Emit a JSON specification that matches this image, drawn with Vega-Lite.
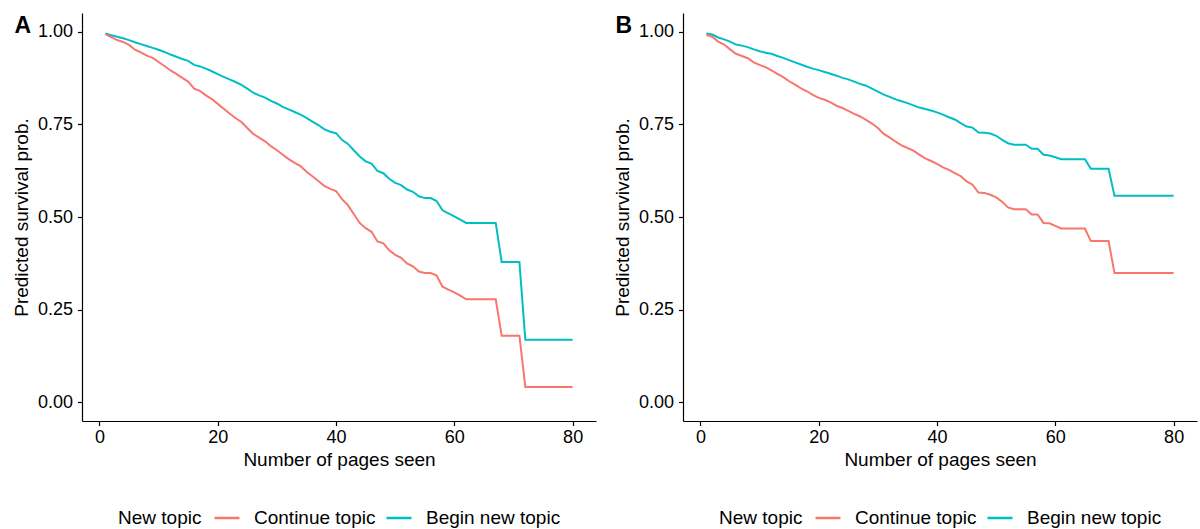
{
"$schema": "https://vega.github.io/schema/vega-lite/v6.json",
"padding": {"left": 12, "top": 13, "right": 2, "bottom": 2},
"spacing": 17,
"datasets": {
"A": [
{"topic":"Begin new topic","pages":1,"prob":0.995},{"topic":"Begin new topic","pages":2,"prob":0.990},{"topic":"Begin new topic","pages":3,"prob":0.986},{"topic":"Begin new topic","pages":4,"prob":0.982},{"topic":"Begin new topic","pages":5,"prob":0.977},{"topic":"Begin new topic","pages":6,"prob":0.971},{"topic":"Begin new topic","pages":7,"prob":0.966},{"topic":"Begin new topic","pages":8,"prob":0.961},{"topic":"Begin new topic","pages":9,"prob":0.956},{"topic":"Begin new topic","pages":10,"prob":0.951},
{"topic":"Begin new topic","pages":11,"prob":0.945},{"topic":"Begin new topic","pages":12,"prob":0.938},{"topic":"Begin new topic","pages":13,"prob":0.932},{"topic":"Begin new topic","pages":14,"prob":0.926},{"topic":"Begin new topic","pages":15,"prob":0.921},{"topic":"Begin new topic","pages":16,"prob":0.910},{"topic":"Begin new topic","pages":17,"prob":0.906},{"topic":"Begin new topic","pages":18,"prob":0.900},{"topic":"Begin new topic","pages":19,"prob":0.893},{"topic":"Begin new topic","pages":20,"prob":0.885},
{"topic":"Begin new topic","pages":21,"prob":0.878},{"topic":"Begin new topic","pages":22,"prob":0.871},{"topic":"Begin new topic","pages":23,"prob":0.864},{"topic":"Begin new topic","pages":24,"prob":0.856},{"topic":"Begin new topic","pages":25,"prob":0.846},{"topic":"Begin new topic","pages":26,"prob":0.835},{"topic":"Begin new topic","pages":27,"prob":0.828},{"topic":"Begin new topic","pages":28,"prob":0.822},{"topic":"Begin new topic","pages":29,"prob":0.813},{"topic":"Begin new topic","pages":30,"prob":0.806},
{"topic":"Begin new topic","pages":31,"prob":0.797},{"topic":"Begin new topic","pages":32,"prob":0.790},{"topic":"Begin new topic","pages":33,"prob":0.783},{"topic":"Begin new topic","pages":34,"prob":0.776},{"topic":"Begin new topic","pages":35,"prob":0.767},{"topic":"Begin new topic","pages":36,"prob":0.757},{"topic":"Begin new topic","pages":37,"prob":0.748},{"topic":"Begin new topic","pages":38,"prob":0.737},{"topic":"Begin new topic","pages":39,"prob":0.730},{"topic":"Begin new topic","pages":40,"prob":0.726},
{"topic":"Begin new topic","pages":41,"prob":0.708},{"topic":"Begin new topic","pages":42,"prob":0.697},{"topic":"Begin new topic","pages":43,"prob":0.680},{"topic":"Begin new topic","pages":44,"prob":0.663},{"topic":"Begin new topic","pages":45,"prob":0.650},{"topic":"Begin new topic","pages":46,"prob":0.644},{"topic":"Begin new topic","pages":47,"prob":0.624},{"topic":"Begin new topic","pages":48,"prob":0.618},{"topic":"Begin new topic","pages":49,"prob":0.603},{"topic":"Begin new topic","pages":50,"prob":0.592},
{"topic":"Begin new topic","pages":51,"prob":0.586},{"topic":"Begin new topic","pages":52,"prob":0.574},{"topic":"Begin new topic","pages":53,"prob":0.568},{"topic":"Begin new topic","pages":54,"prob":0.556},{"topic":"Begin new topic","pages":55,"prob":0.551},{"topic":"Begin new topic","pages":56,"prob":0.551},{"topic":"Begin new topic","pages":57,"prob":0.543},{"topic":"Begin new topic","pages":58,"prob":0.518},{"topic":"Begin new topic","pages":59,"prob":0.510},{"topic":"Begin new topic","pages":60,"prob":0.502},
{"topic":"Begin new topic","pages":61,"prob":0.493},{"topic":"Begin new topic","pages":62,"prob":0.484},{"topic":"Begin new topic","pages":67,"prob":0.484},{"topic":"Begin new topic","pages":68,"prob":0.379},{"topic":"Begin new topic","pages":71,"prob":0.379},{"topic":"Begin new topic","pages":72,"prob":0.169},{"topic":"Begin new topic","pages":80,"prob":0.169},
{"topic":"Continue topic","pages":1,"prob":0.993},{"topic":"Continue topic","pages":2,"prob":0.985},{"topic":"Continue topic","pages":3,"prob":0.977},{"topic":"Continue topic","pages":4,"prob":0.972},{"topic":"Continue topic","pages":5,"prob":0.964},{"topic":"Continue topic","pages":6,"prob":0.951},{"topic":"Continue topic","pages":7,"prob":0.944},{"topic":"Continue topic","pages":8,"prob":0.935},{"topic":"Continue topic","pages":9,"prob":0.929},{"topic":"Continue topic","pages":10,"prob":0.918},
{"topic":"Continue topic","pages":11,"prob":0.907},{"topic":"Continue topic","pages":12,"prob":0.895},{"topic":"Continue topic","pages":13,"prob":0.886},{"topic":"Continue topic","pages":14,"prob":0.875},{"topic":"Continue topic","pages":15,"prob":0.865},{"topic":"Continue topic","pages":16,"prob":0.846},{"topic":"Continue topic","pages":17,"prob":0.840},{"topic":"Continue topic","pages":18,"prob":0.828},{"topic":"Continue topic","pages":19,"prob":0.818},{"topic":"Continue topic","pages":20,"prob":0.805},
{"topic":"Continue topic","pages":21,"prob":0.792},{"topic":"Continue topic","pages":22,"prob":0.779},{"topic":"Continue topic","pages":23,"prob":0.767},{"topic":"Continue topic","pages":24,"prob":0.756},{"topic":"Continue topic","pages":25,"prob":0.740},{"topic":"Continue topic","pages":26,"prob":0.724},{"topic":"Continue topic","pages":27,"prob":0.714},{"topic":"Continue topic","pages":28,"prob":0.704},{"topic":"Continue topic","pages":29,"prob":0.691},{"topic":"Continue topic","pages":30,"prob":0.680},
{"topic":"Continue topic","pages":31,"prob":0.668},{"topic":"Continue topic","pages":32,"prob":0.656},{"topic":"Continue topic","pages":33,"prob":0.646},{"topic":"Continue topic","pages":34,"prob":0.637},{"topic":"Continue topic","pages":35,"prob":0.622},{"topic":"Continue topic","pages":36,"prob":0.610},{"topic":"Continue topic","pages":37,"prob":0.597},{"topic":"Continue topic","pages":38,"prob":0.584},{"topic":"Continue topic","pages":39,"prob":0.576},{"topic":"Continue topic","pages":40,"prob":0.570},
{"topic":"Continue topic","pages":41,"prob":0.548},{"topic":"Continue topic","pages":42,"prob":0.532},{"topic":"Continue topic","pages":43,"prob":0.508},{"topic":"Continue topic","pages":44,"prob":0.484},{"topic":"Continue topic","pages":45,"prob":0.470},{"topic":"Continue topic","pages":46,"prob":0.460},{"topic":"Continue topic","pages":47,"prob":0.434},{"topic":"Continue topic","pages":48,"prob":0.429},{"topic":"Continue topic","pages":49,"prob":0.410},{"topic":"Continue topic","pages":50,"prob":0.398},
{"topic":"Continue topic","pages":51,"prob":0.390},{"topic":"Continue topic","pages":52,"prob":0.375},{"topic":"Continue topic","pages":53,"prob":0.367},{"topic":"Continue topic","pages":54,"prob":0.353},{"topic":"Continue topic","pages":55,"prob":0.349},{"topic":"Continue topic","pages":56,"prob":0.349},{"topic":"Continue topic","pages":57,"prob":0.342},{"topic":"Continue topic","pages":58,"prob":0.312},{"topic":"Continue topic","pages":59,"prob":0.304},{"topic":"Continue topic","pages":60,"prob":0.297},
{"topic":"Continue topic","pages":61,"prob":0.288},{"topic":"Continue topic","pages":62,"prob":0.278},{"topic":"Continue topic","pages":67,"prob":0.278},{"topic":"Continue topic","pages":68,"prob":0.180},{"topic":"Continue topic","pages":71,"prob":0.180},{"topic":"Continue topic","pages":72,"prob":0.042},{"topic":"Continue topic","pages":80,"prob":0.042}
],
"B": [
{"topic":"Begin new topic","pages":1,"prob":0.995},{"topic":"Begin new topic","pages":2,"prob":0.992},{"topic":"Begin new topic","pages":3,"prob":0.984},{"topic":"Begin new topic","pages":4,"prob":0.979},{"topic":"Begin new topic","pages":5,"prob":0.973},{"topic":"Begin new topic","pages":6,"prob":0.965},{"topic":"Begin new topic","pages":7,"prob":0.962},{"topic":"Begin new topic","pages":8,"prob":0.958},{"topic":"Begin new topic","pages":9,"prob":0.952},{"topic":"Begin new topic","pages":10,"prob":0.947},
{"topic":"Begin new topic","pages":11,"prob":0.943},{"topic":"Begin new topic","pages":12,"prob":0.940},{"topic":"Begin new topic","pages":13,"prob":0.934},{"topic":"Begin new topic","pages":14,"prob":0.929},{"topic":"Begin new topic","pages":15,"prob":0.923},{"topic":"Begin new topic","pages":16,"prob":0.917},{"topic":"Begin new topic","pages":17,"prob":0.911},{"topic":"Begin new topic","pages":18,"prob":0.905},{"topic":"Begin new topic","pages":19,"prob":0.900},{"topic":"Begin new topic","pages":20,"prob":0.896},
{"topic":"Begin new topic","pages":21,"prob":0.891},{"topic":"Begin new topic","pages":22,"prob":0.886},{"topic":"Begin new topic","pages":23,"prob":0.881},{"topic":"Begin new topic","pages":24,"prob":0.875},{"topic":"Begin new topic","pages":25,"prob":0.871},{"topic":"Begin new topic","pages":26,"prob":0.865},{"topic":"Begin new topic","pages":27,"prob":0.859},{"topic":"Begin new topic","pages":28,"prob":0.854},{"topic":"Begin new topic","pages":29,"prob":0.846},{"topic":"Begin new topic","pages":30,"prob":0.838},
{"topic":"Begin new topic","pages":31,"prob":0.830},{"topic":"Begin new topic","pages":32,"prob":0.824},{"topic":"Begin new topic","pages":33,"prob":0.817},{"topic":"Begin new topic","pages":34,"prob":0.812},{"topic":"Begin new topic","pages":35,"prob":0.807},{"topic":"Begin new topic","pages":36,"prob":0.801},{"topic":"Begin new topic","pages":37,"prob":0.795},{"topic":"Begin new topic","pages":38,"prob":0.791},{"topic":"Begin new topic","pages":39,"prob":0.787},{"topic":"Begin new topic","pages":40,"prob":0.782},
{"topic":"Begin new topic","pages":41,"prob":0.776},{"topic":"Begin new topic","pages":42,"prob":0.769},{"topic":"Begin new topic","pages":43,"prob":0.763},{"topic":"Begin new topic","pages":44,"prob":0.753},{"topic":"Begin new topic","pages":45,"prob":0.744},{"topic":"Begin new topic","pages":46,"prob":0.741},{"topic":"Begin new topic","pages":47,"prob":0.728},{"topic":"Begin new topic","pages":48,"prob":0.727},{"topic":"Begin new topic","pages":49,"prob":0.725},{"topic":"Begin new topic","pages":50,"prob":0.719},
{"topic":"Begin new topic","pages":51,"prob":0.708},{"topic":"Begin new topic","pages":52,"prob":0.699},{"topic":"Begin new topic","pages":53,"prob":0.695},{"topic":"Begin new topic","pages":55,"prob":0.695},{"topic":"Begin new topic","pages":56,"prob":0.684},{"topic":"Begin new topic","pages":57,"prob":0.684},{"topic":"Begin new topic","pages":58,"prob":0.668},{"topic":"Begin new topic","pages":59,"prob":0.666},{"topic":"Begin new topic","pages":60,"prob":0.661},
{"topic":"Begin new topic","pages":61,"prob":0.656},{"topic":"Begin new topic","pages":65,"prob":0.656},{"topic":"Begin new topic","pages":66,"prob":0.630},{"topic":"Begin new topic","pages":69,"prob":0.630},{"topic":"Begin new topic","pages":70,"prob":0.557},{"topic":"Begin new topic","pages":80,"prob":0.557},
{"topic":"Continue topic","pages":1,"prob":0.991},{"topic":"Continue topic","pages":2,"prob":0.986},{"topic":"Continue topic","pages":3,"prob":0.973},{"topic":"Continue topic","pages":4,"prob":0.965},{"topic":"Continue topic","pages":5,"prob":0.952},{"topic":"Continue topic","pages":6,"prob":0.940},{"topic":"Continue topic","pages":7,"prob":0.934},{"topic":"Continue topic","pages":8,"prob":0.928},{"topic":"Continue topic","pages":9,"prob":0.917},{"topic":"Continue topic","pages":10,"prob":0.910},
{"topic":"Continue topic","pages":11,"prob":0.904},{"topic":"Continue topic","pages":12,"prob":0.895},{"topic":"Continue topic","pages":13,"prob":0.886},{"topic":"Continue topic","pages":14,"prob":0.877},{"topic":"Continue topic","pages":15,"prob":0.866},{"topic":"Continue topic","pages":16,"prob":0.857},{"topic":"Continue topic","pages":17,"prob":0.847},{"topic":"Continue topic","pages":18,"prob":0.839},{"topic":"Continue topic","pages":19,"prob":0.829},{"topic":"Continue topic","pages":20,"prob":0.821},
{"topic":"Continue topic","pages":21,"prob":0.816},{"topic":"Continue topic","pages":22,"prob":0.809},{"topic":"Continue topic","pages":23,"prob":0.800},{"topic":"Continue topic","pages":24,"prob":0.794},{"topic":"Continue topic","pages":25,"prob":0.786},{"topic":"Continue topic","pages":26,"prob":0.778},{"topic":"Continue topic","pages":27,"prob":0.771},{"topic":"Continue topic","pages":28,"prob":0.762},{"topic":"Continue topic","pages":29,"prob":0.752},{"topic":"Continue topic","pages":30,"prob":0.740},
{"topic":"Continue topic","pages":31,"prob":0.724},{"topic":"Continue topic","pages":32,"prob":0.714},{"topic":"Continue topic","pages":33,"prob":0.703},{"topic":"Continue topic","pages":34,"prob":0.693},{"topic":"Continue topic","pages":35,"prob":0.686},{"topic":"Continue topic","pages":36,"prob":0.679},{"topic":"Continue topic","pages":37,"prob":0.668},{"topic":"Continue topic","pages":38,"prob":0.658},{"topic":"Continue topic","pages":39,"prob":0.651},{"topic":"Continue topic","pages":40,"prob":0.643},
{"topic":"Continue topic","pages":41,"prob":0.634},{"topic":"Continue topic","pages":42,"prob":0.627},{"topic":"Continue topic","pages":43,"prob":0.618},{"topic":"Continue topic","pages":44,"prob":0.610},{"topic":"Continue topic","pages":45,"prob":0.596},{"topic":"Continue topic","pages":46,"prob":0.587},{"topic":"Continue topic","pages":47,"prob":0.566},{"topic":"Continue topic","pages":48,"prob":0.565},{"topic":"Continue topic","pages":49,"prob":0.560},{"topic":"Continue topic","pages":50,"prob":0.553},
{"topic":"Continue topic","pages":51,"prob":0.541},{"topic":"Continue topic","pages":52,"prob":0.526},{"topic":"Continue topic","pages":53,"prob":0.521},{"topic":"Continue topic","pages":55,"prob":0.521},{"topic":"Continue topic","pages":56,"prob":0.507},{"topic":"Continue topic","pages":57,"prob":0.507},{"topic":"Continue topic","pages":58,"prob":0.484},{"topic":"Continue topic","pages":59,"prob":0.483},{"topic":"Continue topic","pages":60,"prob":0.476},
{"topic":"Continue topic","pages":61,"prob":0.469},{"topic":"Continue topic","pages":65,"prob":0.469},{"topic":"Continue topic","pages":66,"prob":0.435},{"topic":"Continue topic","pages":69,"prob":0.435},{"topic":"Continue topic","pages":70,"prob":0.349},{"topic":"Continue topic","pages":80,"prob":0.349}
]
},
"hconcat": [
{
"data": {"name": "A"},
"title": {"text": "A", "anchor": "start", "frame": "bounds", "offset": -19, "baseline": "alphabetic", "fontSize": 23, "fontWeight": "bold", "color": "black", "font": "Liberation Sans", "dx": 2, "dy": 24},
"width": 514, "height": 408,
"mark": {"type": "line", "strokeWidth": 2, "interpolate": "linear"},
"encoding": {
"x": {"field": "pages", "type": "quantitative", "title": "Number of pages seen", "scale": {"domain": [-2.95, 83.95], "nice": false, "zero": false}, "axis": {"values": [0, 20, 40, 60, 80], "labelPadding": 3}},
"y": {"field": "prob", "type": "quantitative", "title": "Predicted survival prob.", "scale": {"domain": [-0.05, 1.05], "nice": false, "zero": false}, "axis": {"values": [0, 0.25, 0.5, 0.75, 1], "format": ".2f", "labelPadding": 5, "titlePadding": 6}},
"color": {"field": "topic", "type": "nominal", "title": "New topic", "scale": {"domain": ["Continue topic", "Begin new topic"], "range": ["#F8766D", "#00BFC4"]}},
"order": {"field": "pages", "type": "quantitative"}
}
},
{
"data": {"name": "B"},
"title": {"text": "B", "anchor": "start", "frame": "bounds", "offset": -19, "baseline": "alphabetic", "fontSize": 23, "fontWeight": "bold", "color": "black", "font": "Liberation Sans", "dx": 2, "dy": 24},
"width": 514, "height": 408,
"mark": {"type": "line", "strokeWidth": 2, "interpolate": "linear"},
"encoding": {
"x": {"field": "pages", "type": "quantitative", "title": "Number of pages seen", "scale": {"domain": [-2.95, 83.95], "nice": false, "zero": false}, "axis": {"values": [0, 20, 40, 60, 80], "labelPadding": 3}},
"y": {"field": "prob", "type": "quantitative", "title": "Predicted survival prob.", "scale": {"domain": [-0.05, 1.05], "nice": false, "zero": false}, "axis": {"values": [0, 0.25, 0.5, 0.75, 1], "format": ".2f", "labelPadding": 5, "titlePadding": 6}},
"color": {"field": "topic", "type": "nominal", "title": "New topic", "scale": {"domain": ["Continue topic", "Begin new topic"], "range": ["#F8766D", "#00BFC4"]}},
"order": {"field": "pages", "type": "quantitative"}
}
}
],
"resolve": {"scale": {"color": "independent", "x": "independent", "y": "independent"}, "legend": {"color": "independent"}},
"config": {
"font": "Liberation Sans",
"view": {"stroke": null},
"axis": {"grid": false, "domainColor": "black", "domainWidth": 1.2, "tickColor": "black", "tickWidth": 1.2, "tickSize": 4.5, "labelColor": "black", "titleColor": "black", "labelFont": "Liberation Sans", "titleFont": "Liberation Sans", "labelFontSize": 18, "titleFontSize": 19, "titleFontWeight": "normal", "titlePadding": 4},
"legend": {"orient": "bottom", "direction": "horizontal", "titleOrient": "left", "titleAnchor": "end", "titleBaseline": "bottom", "titleFont": "Liberation Sans", "labelFont": "Liberation Sans", "titleFontSize": 19, "labelFontSize": 19, "titleFontWeight": "normal", "titleColor": "black", "labelColor": "black", "symbolType": "stroke", "symbolSize": 625, "symbolStrokeWidth": 2.5, "labelOffset": 13, "columnPadding": 5, "titlePadding": 11, "offset": 34, "labelLimit": 300, "layout": {"bottom": {"anchor": "middle"}}}
}
}
